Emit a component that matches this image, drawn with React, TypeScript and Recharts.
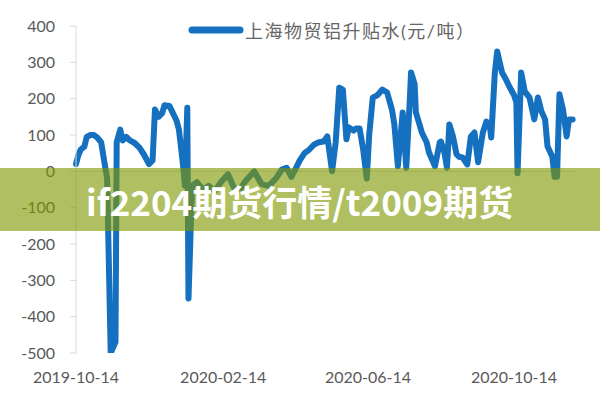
import { LineChart, Line, XAxis, YAxis, ReferenceLine } from "recharts";

// 上海物贸铝升贴水 (元/吨)
const dates = [
  "2019-10-14", "2019-10-16", "2019-10-18", "2019-10-21", "2019-10-23", "2019-10-26", "2019-10-29",
  "2019-11-01", "2019-11-04", "2019-11-06", "2019-11-09", "2019-11-12", "2019-11-16", "2019-11-17",
  "2019-11-20", "2019-11-22", "2019-11-25", "2019-11-28", "2019-12-02", "2019-12-06", "2019-12-10",
  "2019-12-14", "2019-12-17", "2019-12-19", "2019-12-22", "2019-12-25", "2019-12-27", "2019-12-31",
  "2020-01-03", "2020-01-06", "2020-01-08", "2020-01-10", "2020-01-12", "2020-01-13", "2020-01-15",
  "2020-01-16", "2020-01-19", "2020-01-23", "2020-01-28", "2020-02-02", "2020-02-07", "2020-02-12",
  "2020-02-18", "2020-02-23", "2020-02-28", "2020-03-04", "2020-03-11", "2020-03-17", "2020-03-23",
  "2020-03-29", "2020-04-03", "2020-04-07", "2020-04-11", "2020-04-15", "2020-04-18", "2020-04-22",
  "2020-04-26", "2020-04-30", "2020-05-04", "2020-05-08", "2020-05-11", "2020-05-15", "2020-05-18",
  "2020-05-21", "2020-05-24", "2020-05-27", "2020-05-29", "2020-06-02", "2020-06-04", "2020-06-07",
  "2020-06-10", "2020-06-13", "2020-06-15", "2020-06-18", "2020-06-22", "2020-06-26", "2020-06-30",
  "2020-07-04", "2020-07-06", "2020-07-09", "2020-07-13", "2020-07-16", "2020-07-19", "2020-07-20",
  "2020-07-23", "2020-07-24", "2020-07-27", "2020-07-29", "2020-08-02", "2020-08-04", "2020-08-09",
  "2020-08-13", "2020-08-14", "2020-08-17", "2020-08-19", "2020-08-21", "2020-08-24", "2020-08-27",
  "2020-08-29", "2020-09-01", "2020-09-05", "2020-09-08", "2020-09-11", "2020-09-14", "2020-09-18",
  "2020-09-21", "2020-09-24", "2020-09-25", "2020-09-28", "2020-09-30", "2020-10-04", "2020-10-07",
  "2020-10-10", "2020-10-14", "2020-10-16", "2020-10-17", "2020-10-20", "2020-10-23", "2020-10-27",
  "2020-10-31", "2020-11-03", "2020-11-06", "2020-11-09", "2020-11-11", "2020-11-15", "2020-11-17",
  "2020-11-19", "2020-11-21", "2020-11-24", "2020-11-27", "2020-11-29", "2020-12-02",
];

const premium = [
  20, 45, 60, 68, 95, 100, 100,
  92, 80, 40, -20, -500, -470, 80,
  115, 85, 95, 85, 78, 65, 45,
  20, 30, 170, 150, 160, 182, 180,
  160, 140, 115, 60, 0, -40, 175,
  -350, -40, -30, -50, -40, -55, -30,
  -8, -45, -50, -25, 0, -35, -40,
  -20, 5, 10, -15, 10, 30, 50,
  60, 74, 80, 82, 96, 0, 80,
  230, 225, 88, 121, 112, 118, 118,
  60, -20, 100, 203, 210, 225, 217,
  170, 130, 14, 162, 10, 200, 272,
  240, 162, 130, 107, 80, 52, 14,
  80, 82, 50, 10, 129, 96, 47,
  40, 38, 19, 96, 107, 25, 107,
  137, 120, 93, 272, 330, 272, 255,
  234, 210, 190, -5, 272, 220, 203,
  143, 203, 165, 143, 69, 41, -15,
  -15, 212, 170, 96, 143, 143,
];

const tickDates = ["2019-10-14", "2020-02-14", "2020-06-14", "2020-10-14"];
const yTicks = [-500, -400, -300, -200, -100, 0, 100, 200, 300, 400];

const start = Date.parse(dates[0]);
const dayOf = (d: string) => Math.round((Date.parse(d) - start) / 86400000);

const data = dates.map((d, i) => ({ day: dayOf(d), value: premium[i] }));
const xTicks = tickDates.map(dayOf);

const BLUE = "#1670c0";
const GREY = "#595959";
const font = "Lato, 'Noto Sans CJK SC', sans-serif";

export default function App() {
  return (
    <div style={{ position: "absolute", left: 0, top: 0, width: 600, height: 400, background: "#fff" }}>
      <LineChart width={600} height={400} data={data} margin={{ top: 26, right: 25, bottom: 17, left: 0 }}>
        <ReferenceLine y={0} stroke="#d9d9d9" strokeWidth={1} />
        <XAxis
          type="number"
          dataKey="day"
          domain={[0, 417]}
          ticks={xTicks}
          tickFormatter={(v: number) => tickDates[xTicks.indexOf(v)] ?? ""}
          axisLine={false}
          tickLine={false}
          tickSize={0}
          tickMargin={19}
          tick={{ fill: GREY, fontSize: 16, fontFamily: font }}
        />
        <YAxis
          domain={[-500, 400]}
          ticks={yTicks}
          width={76}
          allowDataOverflow
          axisLine={{ stroke: "#d9d9d9" }}
          tickLine={{ stroke: "#d9d9d9" }}
          tickSize={6}
          tickMargin={15}
          tick={{ fill: GREY, fontSize: 16, fontFamily: font }}
        />
        <Line
          type="linear"
          dataKey="value"
          stroke={BLUE}
          strokeWidth={6}
          strokeLinejoin="round"
          strokeLinecap="round"
          dot={false}
          isAnimationActive={false}
        />
      </LineChart>

      <div style={{ position: "absolute", left: 188, top: 17, display: "flex", alignItems: "center", fontFamily: font }}>
        <svg width={56} height={10}>
          <line x1={4} y1={5} x2={52} y2={5} stroke={BLUE} strokeWidth={7} strokeLinecap="round" />
        </svg>
        <span style={{ color: "#666", fontSize: 18, letterSpacing: 1.5, marginLeft: 1 }}>上海物贸铝升贴水(元/吨）</span>
      </div>

      <div
        style={{
          position: "absolute",
          left: 0,
          top: 168,
          width: 600,
          height: 63,
          background: "rgba(128,152,0,0.62)",
        }}
      />
      <div
        style={{
          position: "absolute",
          left: 86,
          top: 177,
          color: "#fff",
          fontWeight: 700,
          fontSize: 35,
          fontFamily: "'Noto Sans CJK SC', 'Noto Sans', sans-serif",
          lineHeight: "48px",
          whiteSpace: "nowrap",
        }}
      >
        if2204期货行情/t2009期货
      </div>
    </div>
  );
}
